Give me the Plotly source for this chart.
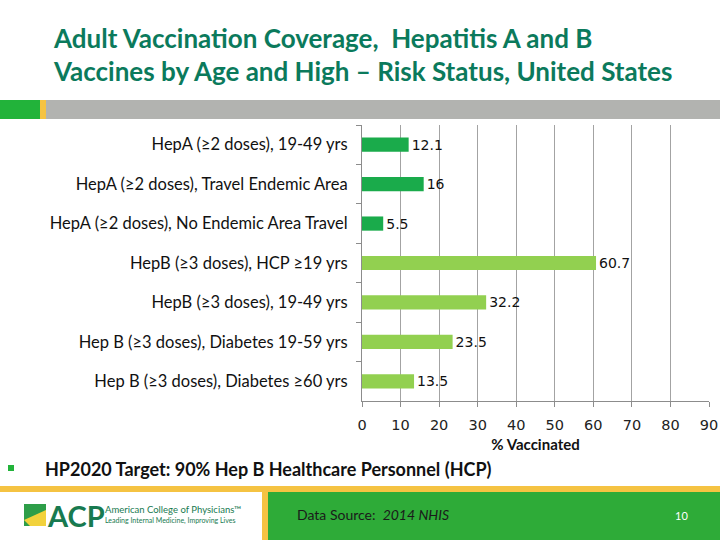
import plotly.graph_objects as go

categories = [
    "HepA (≥2 doses), 19-49 yrs",
    "HepA (≥2 doses), Travel Endemic Area",
    "HepA (≥2 doses), No Endemic Area Travel",
    "HepB (≥3 doses), HCP ≥19 yrs",
    "HepB (≥3 doses), 19-49 yrs",
    "Hep B (≥3 doses), Diabetes 19-59 yrs",
    "Hep B (≥3 doses), Diabetes ≥60 yrs",
]
values = [12.1, 16, 5.5, 60.7, 32.2, 23.5, 13.5]
value_labels = ["12.1", "16", "5.5", "60.7", "32.2", "23.5", "13.5"]
bar_colors = ["#1aab4b", "#1aab4b", "#1aab4b", "#92d050", "#92d050", "#92d050", "#92d050"]
x_ticks = [0, 10, 20, 30, 40, 50, 60, 70, 80, 90]

title_lines = ["Adult Vaccination Coverage,  Hepatitis A and B",
               "Vaccines by Age and High – Risk Status, United States"]

W, H = 720, 540
L, R, T, B = 362, 11, 125, 139
PW, PH = W - L - R, H - T - B


def px(x):
    return (x - L) / PW


def py(y):
    return (T + PH - y) / PH


fig = go.Figure()
fig.add_trace(go.Bar(
    y=categories, x=values, orientation="h",
    marker=dict(color=bar_colors, line=dict(width=0)),
    text=value_labels, textposition="outside", cliponaxis=False,
    constraintext="none",
    textfont=dict(family="DejaVu Sans", size=14, color="#111111"),
    width=0.36, hoverinfo="skip",
))

fig.update_layout(
    width=W, height=H,
    margin=dict(l=L, r=R, t=T, b=B, autoexpand=False),
    paper_bgcolor="white", plot_bgcolor="white",
    showlegend=False,
    font=dict(family="Lato", color="#222222"),
    xaxis=dict(
        range=[0, 90], tickvals=x_ticks, ticktext=[str(t) for t in x_ticks],
        showgrid=True, gridcolor="#a3a3a3", gridwidth=1,
        showline=True, linecolor="#8c8c8c", linewidth=1,
        ticks="outside", ticklen=5, tickcolor="#8c8c8c",
        ticklabelstandoff=6,
        tickfont=dict(family="DejaVu Sans", size=14.5, color="#222222"),
        title=dict(text="<b>% Vaccinated</b>", font=dict(family="Lato", size=15, color="#111111"), standoff=7),
        zeroline=False, fixedrange=True, automargin=False,
    ),
    yaxis=dict(
        type="category", autorange="reversed",
        categoryorder="array", categoryarray=categories,
        showline=True, linecolor="#8c8c8c", linewidth=1,
        ticks="outside", tickson="boundaries", ticklen=5, tickcolor="#8c8c8c",
        tickfont=dict(family="Lato", size=16.5, color="#111111"),
        ticklabelstandoff=10,
        showgrid=False, automargin=False, fixedrange=True,
    ),
    bargap=0.64,
)

# Title
fig.add_annotation(
    xref="paper", yref="paper", xanchor="left", yanchor="middle",
    x=px(51), y=py(38),
    text="<b>" + title_lines[0] + "</b>", showarrow=False,
    font=dict(family="Lato", size=26, color="#0b7a5c"),
)
fig.add_annotation(
    xref="paper", yref="paper", xanchor="left", yanchor="middle",
    x=px(51), y=py(71),
    text="<b>" + title_lines[1] + "</b>", showarrow=False,
    font=dict(family="Lato", size=26, color="#0b7a5c"),
)


def rect(x0, x1, y0, y1, color, layer="above"):
    fig.add_shape(type="rect", xref="paper", yref="paper",
                  x0=px(x0), x1=px(x1), y0=py(y1), y1=py(y0),
                  fillcolor=color, line=dict(width=0), layer=layer)


# Decorative band under title
rect(0, 40, 100, 119, "#22b33a", "below")
rect(40, 46, 100, 119, "#f5c342", "below")
rect(46, 720, 100, 119, "#b2b3b0", "below")

# Bullet line
rect(8, 14, 465, 471, "#22b33a")
fig.add_annotation(
    xref="paper", yref="paper", xanchor="left", yanchor="middle",
    x=px(43), y=py(469),
    text="<b>HP2020 Target: 90% Hep B Healthcare Personnel (HCP)</b>", showarrow=False,
    font=dict(family="Lato", size=18, color="#111111"),
)

# Footer
rect(268, 720, 492, 540, "#2eab38")
rect(0, 720, 486, 492, "#f5c342")
rect(262, 268, 492, 540, "#f5c342")
fig.add_annotation(
    xref="paper", yref="paper", xanchor="left", yanchor="middle",
    x=px(295), y=py(514),
    text="Data Source:  <i>2014 NHIS</i>", showarrow=False,
    font=dict(family="Lato", size=14, color="#1a1a1a"),
)
fig.add_annotation(
    xref="paper", yref="paper", xanchor="center", yanchor="middle",
    x=px(681), y=py(515),
    text="10", showarrow=False,
    font=dict(family="Lato", size=11, color="white"),
)

# ACP logo approximation
rect(24, 46, 504, 526, "#2e9e48")
fig.add_shape(type="path", xref="paper", yref="paper",
              path=f"M {px(24)},{py(520)} L {px(46)},{py(510)} L {px(46)},{py(526)} L {px(30)},{py(526)} Z",
              fillcolor="#f2d23c", line=dict(width=0))
fig.add_annotation(
    xref="paper", yref="paper", xanchor="left", yanchor="middle",
    x=px(45), y=py(515),
    text="<b>ACP</b>", showarrow=False,
    font=dict(family="Lato", size=29, color="#187a50"),
)
fig.add_annotation(
    xref="paper", yref="paper", xanchor="left", yanchor="middle",
    x=px(103), y=py(509),
    text="American College of Physicians™", showarrow=False,
    font=dict(family="Lato", size=9.5, color="#187a50"),
)
fig.add_annotation(
    xref="paper", yref="paper", xanchor="left", yanchor="middle",
    x=px(103), y=py(520),
    text="Leading Internal Medicine, Improving Lives", showarrow=False,
    font=dict(family="Lato", size=7, color="#187a50"),
)

fig.write_html("out.html", config={"displayModeBar": False},
               post_script="document.body.style.margin='0px';")
